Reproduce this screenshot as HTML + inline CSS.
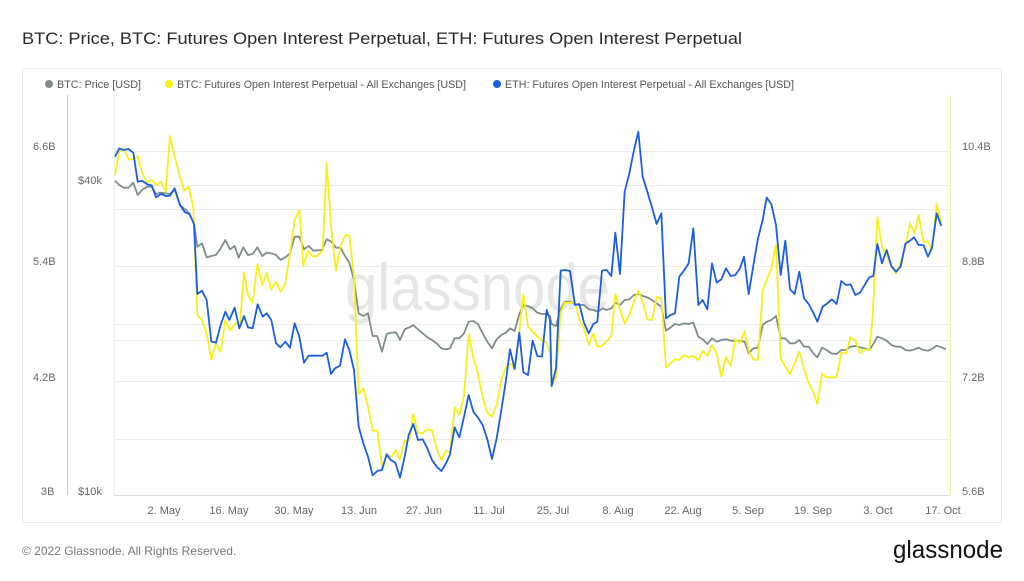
<!DOCTYPE html>
<html><head><meta charset="utf-8"><style>
body{margin:0;width:1024px;height:576px;background:#fff;font-family:"Liberation Sans",sans-serif;overflow:hidden}
</style></head><body>
<svg width="1024" height="576" xmlns="http://www.w3.org/2000/svg" font-family="Liberation Sans, sans-serif">
<text x="22" y="44" font-size="17" fill="#2a2a2a" textLength="720" lengthAdjust="spacingAndGlyphs">BTC: Price, BTC: Futures Open Interest Perpetual, ETH: Futures Open Interest Perpetual</text>
<rect x="22.5" y="68.5" width="979" height="454" fill="#fff" stroke="#e8e8e8"/>
<g font-size="11" fill="#555">
<circle cx="49" cy="84" r="4" fill="#7f8c8d"/><text x="57" y="88" textLength="84" lengthAdjust="spacingAndGlyphs">BTC: Price [USD]</text>
<circle cx="169" cy="84" r="4" fill="#f7f01a"/><text x="177" y="88" textLength="289" lengthAdjust="spacingAndGlyphs">BTC: Futures Open Interest Perpetual - All Exchanges [USD]</text>
<circle cx="497" cy="84" r="4" fill="#1b5ede"/><text x="505" y="88" textLength="289" lengthAdjust="spacingAndGlyphs">ETH: Futures Open Interest Perpetual - All Exchanges [USD]</text>
</g>
<g stroke="#ececec" stroke-width="1">
<line x1="114" x2="950" y1="151.5" y2="151.5"/><line x1="114" x2="950" y1="185.5" y2="185.5"/>
<line x1="114" x2="950" y1="209.5" y2="209.5"/><line x1="114" x2="950" y1="266.5" y2="266.5"/>
<line x1="114" x2="950" y1="324.5" y2="324.5"/><line x1="114" x2="950" y1="340.5" y2="340.5"/>
<line x1="114" x2="950" y1="381.5" y2="381.5"/><line x1="114" x2="950" y1="439.5" y2="439.5"/>
<line x1="114.5" x2="114.5" y1="95" y2="495"/>
</g>
<line x1="114" x2="950" y1="495.5" y2="495.5" stroke="#d8dde6"/>
<line x1="67.5" x2="67.5" y1="95" y2="495" stroke="#b7c9ea"/>
<line x1="950.5" x2="950.5" y1="95" y2="495" stroke="#f6f3a8"/>
<text x="345" y="310" font-size="66" fill="#e6e6e6" textLength="265" lengthAdjust="spacingAndGlyphs">glassnode</text>
<g font-size="11" fill="#666">
<text x="33" y="150">6.6B</text><text x="33" y="265">5.4B</text><text x="33" y="381">4.2B</text><text x="41" y="495">3B</text>
<text x="78" y="184">$40k</text><text x="78" y="495">$10k</text>
<text x="962" y="150">10.4B</text><text x="962" y="265">8.8B</text><text x="962" y="381">7.2B</text><text x="962" y="495">5.6B</text>
</g>
<g font-size="11" fill="#666" text-anchor="middle">
<text x="164" y="514">2. May</text><text x="229" y="514">16. May</text><text x="294" y="514">30. May</text><text x="359" y="514">13. Jun</text><text x="424" y="514">27. Jun</text><text x="489" y="514">11. Jul</text><text x="553" y="514">25. Jul</text><text x="618" y="514">8. Aug</text><text x="683" y="514">22. Aug</text><text x="748" y="514">5. Sep</text><text x="813" y="514">19. Sep</text><text x="878" y="514">3. Oct</text><text x="943" y="514">17. Oct</text>
</g>
<g fill="none" stroke-width="1.8" stroke-linejoin="round">
<g transform="translate(100,120) scale(0.33333)">
<polyline vector-effect="non-scaling-stroke" stroke="#7f8c8d" points="45,182 58,195 70,203 86,203 100,188 113,225 128,208 142,200 155,200 168,222 183,218 197,220 210,222 224,208 240,255 255,268 268,280 282,310 292,380 306,370 320,412 334,408 348,405 362,385 376,360 390,388 404,378 416,413 430,382 444,405 458,402 472,382 487,408 500,398 514,400 528,405 542,420 556,412 570,400 584,350 598,350 612,388 626,378 640,392 666,390 680,358 694,365 708,383 722,383 736,410 748,428 762,480 776,580 790,588 804,580 818,648 832,648 846,695 860,642 874,638 888,637 900,660 914,628 928,622 940,615 954,628 968,640 982,652 996,660 1010,670 1024,685 1038,688 1050,685 1064,655 1078,655 1092,640 1106,605 1120,603 1134,612 1148,640 1162,665 1176,685 1190,658 1204,645 1218,638 1230,625 1244,633 1258,582 1270,555 1284,558 1298,565 1312,578 1326,582 1340,582 1350,588"/>
<polyline vector-effect="non-scaling-stroke" stroke="#f7f01a" points="45,165 58,95 70,85 86,118 100,118 113,108 128,162 142,188 155,180 170,195 183,185 197,215 210,48 225,115 240,170 252,212 266,200 280,262 292,585 306,600 320,640 334,718 348,670 362,695 376,600 390,632 404,612 420,608 432,458 444,525 458,548 472,432 487,495 500,458 514,508 528,485 542,515 556,490 570,400 584,300 598,270 610,438 624,393 638,410 652,408 668,392 680,130 694,330 708,452 722,378 736,345 748,346 762,470 776,822 790,805 804,860 818,932 832,932 846,1040 860,1008 874,1010 888,990 900,1018 914,962 928,960 940,882 954,940 968,940 982,928 996,932 1010,985 1024,1020 1038,992 1050,997 1064,863 1078,885 1092,828 1106,642 1120,712 1134,762 1148,832 1162,878 1176,890 1190,855 1204,780 1218,742 1232,730 1244,748 1258,635 1270,522 1284,620 1298,635 1312,650 1326,660 1340,668 1350,700"/>
<polyline vector-effect="non-scaling-stroke" stroke="#1b5ede" points="45,110 58,85 70,90 85,87 100,98 113,185 128,183 142,193 155,196 168,232 183,222 198,228 210,227 224,205 240,255 255,277 268,282 282,312 292,522 306,512 320,540 334,665 348,668 362,615 376,575 388,600 404,563 418,625 432,588 444,622 458,625 473,553 488,590 500,580 514,600 528,670 541,682 556,665 570,683 584,610 598,650 612,728 626,707 668,707 680,698 693,762 705,745 720,737 735,658 748,690 762,750 776,920 790,970 804,1010 818,1066 832,1053 846,1050 860,1003 872,1020 886,1028 900,1073 914,1010 926,945 940,912 954,960 968,958 982,985 996,1020 1010,1040 1024,1053 1038,1030 1050,1003 1064,922 1078,952 1092,890 1106,825 1120,875 1134,893 1148,915 1162,958 1176,1017 1190,955 1204,870 1218,780 1230,688 1244,747 1258,638 1270,757 1284,765 1298,662 1312,708 1326,710 1340,570 1350,600"/>
</g>
<g transform="translate(540,120) scale(0.33333)">
<polyline vector-effect="non-scaling-stroke" stroke="#7f8c8d" points="30,588 35,612 48,618 62,568 75,545 90,545 105,552 118,555 132,555 146,568 160,570 174,575 188,565 200,570 214,565 226,548 240,555 254,540 268,538 282,525 295,522 308,528 322,532 336,540 350,550 364,560 378,632 392,622 405,612 418,615 432,610 446,612 460,608 475,650 488,658 502,672 516,655 530,665 544,660 558,658 572,662 586,662 600,663 614,665 626,700 640,685 654,683 668,615 680,605 694,600 708,588 722,655 736,655 750,670 764,670 778,660 792,680 806,680 820,700 832,712 846,683 860,690 874,700 890,702 904,690 918,690 932,680 946,678 960,682 974,685 988,690 1000,672 1012,650 1026,655 1040,662 1054,675 1068,680 1082,680 1096,690 1110,692 1124,688 1136,683 1150,690 1164,692 1176,687 1190,677 1204,682 1218,688"/>
<polyline vector-effect="non-scaling-stroke" stroke="#f7f01a" points="30,700 35,800 48,770 62,578 75,548 105,548 118,598 132,625 146,675 160,640 172,680 186,678 200,663 214,648 226,522 240,570 254,610 268,585 282,545 295,512 308,545 322,598 336,600 350,530 364,535 378,742 392,730 405,718 418,720 432,705 446,712 460,708 475,720 488,693 502,708 516,675 530,700 544,770 558,710 572,738 586,658 600,668 614,635 626,692 640,718 654,720 668,512 680,480 694,445 708,375 722,715 736,740 750,763 764,730 778,695 792,745 806,790 820,815 832,852 846,762 860,772 874,772 890,772 904,698 918,700 932,652 946,662 960,700 974,688 988,690 998,590 1012,292 1026,380 1040,405 1054,438 1068,460 1082,430 1096,380 1110,310 1124,340 1136,285 1150,365 1164,365 1176,388 1190,252 1204,310"/>
<polyline vector-effect="non-scaling-stroke" stroke="#1b5ede" points="30,600 35,798 48,745 62,452 75,450 90,453 105,555 118,552 132,608 146,640 160,612 172,605 186,452 200,450 214,468 226,338 240,462 254,215 268,160 282,90 295,35 308,170 322,215 336,262 350,312 364,280 378,595 392,585 405,580 418,470 432,452 446,430 460,325 475,555 488,540 502,568 516,430 530,488 544,478 558,445 572,468 586,465 600,445 612,410 626,522 640,437 654,355 668,300 680,233 694,252 708,315 722,465 736,362 750,508 764,522 778,455 792,535 806,552 820,578 832,605 848,560 862,550 876,538 890,552 904,483 918,495 932,493 946,525 960,518 974,495 988,472 1000,468 1012,372 1026,430 1040,390 1054,438 1068,455 1082,440 1096,372 1110,362 1122,352 1136,375 1150,375 1164,410 1176,383 1190,280 1204,318"/>
</g>
</g>
<text x="22" y="555" font-size="12" fill="#777">© 2022 Glassnode. All Rights Reserved.</text>
<text x="1003" y="558" font-size="25" fill="#111" text-anchor="end" textLength="110" lengthAdjust="spacingAndGlyphs">glassnode</text>
</svg>
</body></html>
